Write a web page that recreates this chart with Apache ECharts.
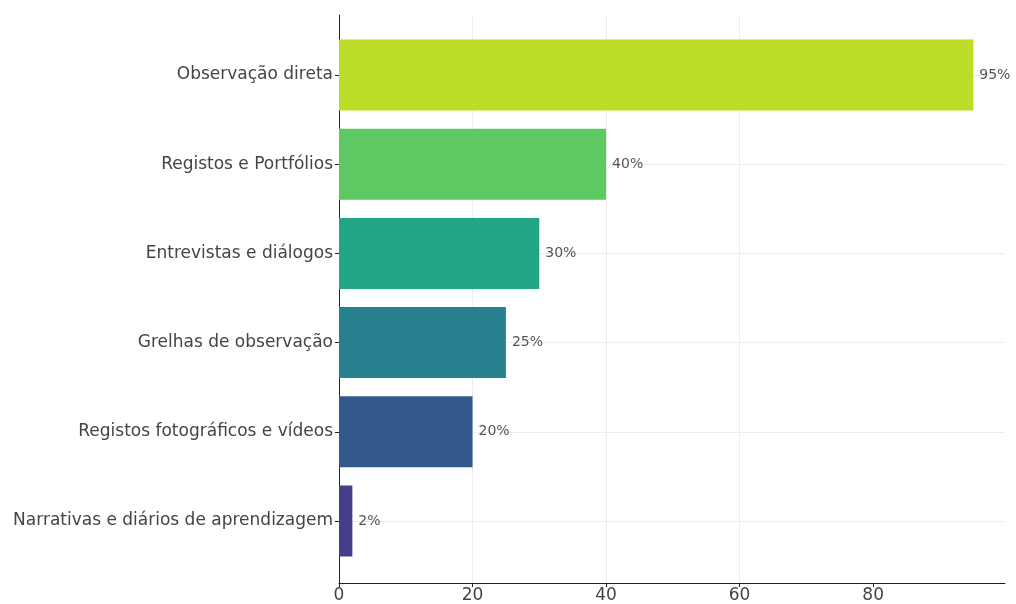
<!DOCTYPE html>
<html>
<head>
<meta charset="utf-8">
<script src="https://cdn.jsdelivr.net/npm/echarts@6/dist/echarts.min.js"></script>
<style>
  html, body { margin: 0; padding: 0; background: #fff; }
  #chart { width: 1016px; height: 604px; }
</style>
</head>
<body>
<div id="chart"></div>
<script>
// categories bottom -> top (category axis draws first item at the bottom)
const categories = [
  "Narrativas e diários de aprendizagem",
  "Registos fotográficos e vídeos",
  "Grelhas de observação",
  "Entrevistas e diálogos",
  "Registos e Portfólios",
  "Observação direta",
];
const values = [2, 20, 25, 30, 40, 95];
const barColors = ["#433e85", "#33598c", "#27808e", "#21a585", "#5ec962", "#bcdd27"];
const xTicks = [0, 20, 40, 60, 80];

const font = "DejaVu Sans";
const xMax = 99.75;

const chart = echarts.init(document.getElementById("chart"));

chart.setOption({
  animation: false,
  textStyle: { fontFamily: font },
  grid: [
    // frame: spines, x ticks, vertical grid lines
    { left: 339, right: 11, top: 15, bottom: 21 },
    // bars: categories sit on the edges so grid lines run through bar centres
    { left: 339, right: 11, top: 75, bottom: 83 },
  ],
  xAxis: [
    {
      gridIndex: 0, type: "value", min: 0, max: xMax,
      axisLine: { show: true, lineStyle: { color: "#222", width: 1 } },
      axisTick: { show: true, length: 4, customValues: xTicks, lineStyle: { color: "#222" } },
      axisLabel: { color: "#444", fontSize: 17, margin: 4, customValues: xTicks },
      splitLine: { show: true, showMaxLine: false, lineStyle: { color: "#ececec", width: 1 } },
    },
    {
      gridIndex: 1, type: "value", min: 0, max: xMax, show: false,
    },
  ],
  yAxis: [
    {
      gridIndex: 0, type: "value", min: 0, max: 1,
      axisLine: { show: true, lineStyle: { color: "#222", width: 1 } },
      axisTick: { show: false }, axisLabel: { show: false }, splitLine: { show: false },
    },
    {
      gridIndex: 1, type: "category", data: categories, boundaryGap: false,
      axisLine: { show: false },
      axisTick: { show: true, length: 4, lineStyle: { color: "#222" } },
      axisLabel: { color: "#444", fontSize: 17, margin: 6 },
      splitLine: { show: true, interval: 0, lineStyle: { color: "#ececec" } },
    },
  ],
  series: [
    {
      type: "bar",
      xAxisIndex: 1,
      yAxisIndex: 1,
      barWidth: 71,
      clip: false,
      data: values.map((v, i) => ({ value: v, itemStyle: { color: barColors[i] } })),
      label: {
        show: true, position: "right", distance: 6,
        color: "#555", fontSize: 14,
        formatter: (p) => p.value + "%",
      },
    },
  ],
});
</script>
</body>
</html>
